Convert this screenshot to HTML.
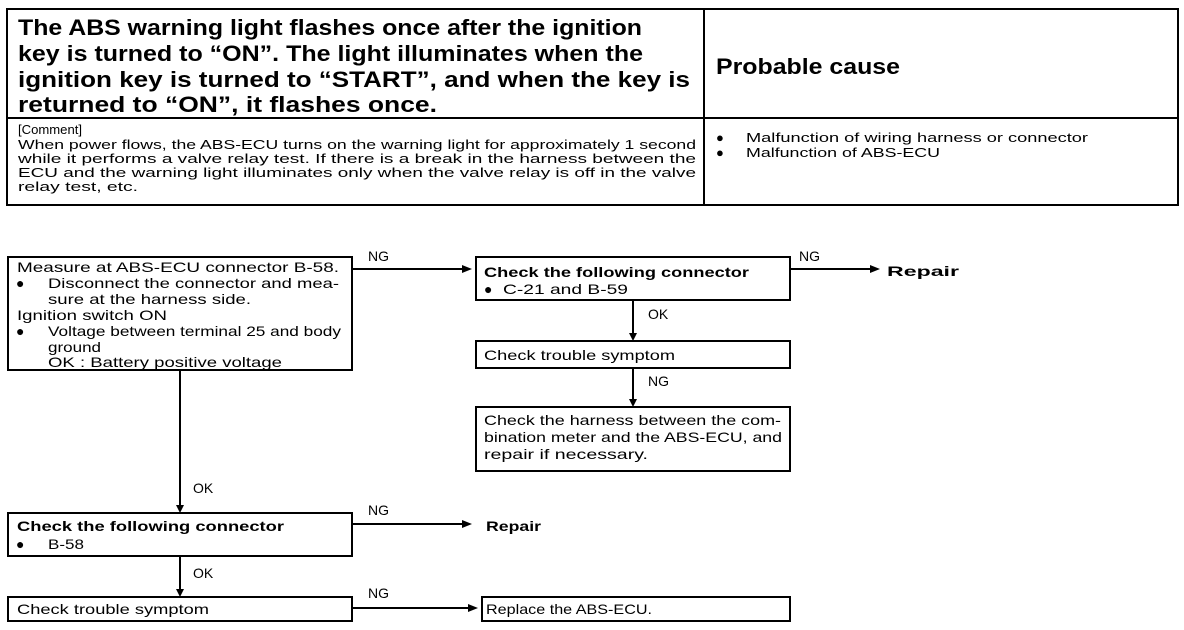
<!DOCTYPE html>
<html><head><meta charset="utf-8"><style>
body{margin:0;background:#fff;}
svg{display:block;font-family:"Liberation Sans",Arial,sans-serif;}
.b{font-weight:bold;}
</style></head><body>
<svg width="1184" height="630" viewBox="0 0 1184 630" xmlns="http://www.w3.org/2000/svg">
<rect width="1184" height="630" fill="#fff"/>
<g fill="none" stroke="#000" stroke-width="2">
<rect x="7" y="9" width="1171" height="196"/>
<line x1="7" y1="118" x2="1178" y2="118"/>
<line x1="704" y1="9" x2="704" y2="205"/>
<rect x="8" y="257" width="344" height="113"/>
<rect x="476" y="257" width="314" height="43"/>
<rect x="476" y="341" width="314" height="27"/>
<rect x="476" y="407" width="314" height="64"/>
<rect x="8" y="513" width="344" height="43"/>
<rect x="8" y="597" width="344" height="24"/>
<rect x="482" y="597" width="308" height="24"/>
<line x1="352" y1="269" x2="462" y2="269"/>
<line x1="790" y1="269" x2="870" y2="269"/>
<line x1="633" y1="300" x2="633" y2="333"/>
<line x1="633" y1="368" x2="633" y2="399"/>
<line x1="180" y1="370" x2="180" y2="505"/>
<line x1="352" y1="524" x2="462" y2="524"/>
<line x1="180" y1="556" x2="180" y2="589"/>
<line x1="352" y1="608" x2="468" y2="608"/>
</g>
<g fill="#000">
<polygon points="462,265 472,269 462,273"/>
<polygon points="870,265 880,269 870,273"/>
<polygon points="629,333 633,341 637,333"/>
<polygon points="629,399 633,407 637,399"/>
<polygon points="176,505 180,513 184,505"/>
<polygon points="462,520 472,524 462,528"/>
<polygon points="176,589 180,597 184,589"/>
<polygon points="468,604 478,608 468,612"/>
</g>
<g class="b" font-size="22" lengthAdjust="spacingAndGlyphs">
<text x="18" y="35" textLength="624" lengthAdjust="spacingAndGlyphs">The ABS warning light flashes once after the ignition</text>
<text x="18" y="61" textLength="625" lengthAdjust="spacingAndGlyphs">key is turned to “ON”.  The light illuminates when the</text>
<text x="18" y="87" textLength="672" lengthAdjust="spacingAndGlyphs">ignition key is turned to “START”, and when the key is</text>
<text x="18" y="112" textLength="419" lengthAdjust="spacingAndGlyphs">returned to “ON”, it flashes once.</text>
<text x="716" y="74" textLength="184" lengthAdjust="spacingAndGlyphs">Probable cause</text>
</g>
<g font-size="13">
<text x="18" y="134" textLength="64" lengthAdjust="spacingAndGlyphs">[Comment]</text>
<text x="18" y="149" textLength="678" lengthAdjust="spacingAndGlyphs">When power flows, the ABS-ECU turns on the warning light for approximately 1 second</text>
<text x="18" y="163" textLength="678" lengthAdjust="spacingAndGlyphs">while it performs a valve relay test.  If there is a break in the harness between the</text>
<text x="18" y="177" textLength="678" lengthAdjust="spacingAndGlyphs">ECU and the warning light illuminates only when the valve relay is off in the valve</text>
<text x="18" y="191" textLength="120" lengthAdjust="spacingAndGlyphs">relay test, etc.</text>
<text x="716" y="142">●</text><text x="746" y="142" textLength="342" lengthAdjust="spacingAndGlyphs">Malfunction of wiring harness or connector</text>
<text x="716" y="157">●</text><text x="746" y="157" textLength="194" lengthAdjust="spacingAndGlyphs">Malfunction of ABS-ECU</text>
</g>
<g font-size="14">
<text x="17" y="272" textLength="322" lengthAdjust="spacingAndGlyphs">Measure at ABS-ECU connector B-58.</text>
<text x="16" y="288">●</text><text x="48" y="288" textLength="291" lengthAdjust="spacingAndGlyphs">Disconnect the connector and mea-</text>
<text x="48" y="304" textLength="203" lengthAdjust="spacingAndGlyphs">sure at the harness side.</text>
<text x="17" y="320" textLength="150" lengthAdjust="spacingAndGlyphs">Ignition switch ON</text>
<text x="16" y="336">●</text><text x="48" y="336" textLength="293" lengthAdjust="spacingAndGlyphs">Voltage between terminal 25 and body</text>
<text x="48" y="352" textLength="53" lengthAdjust="spacingAndGlyphs">ground</text>
<text x="48" y="367" textLength="234" lengthAdjust="spacingAndGlyphs">OK : Battery positive voltage</text>
<text x="484" y="277" class="b" textLength="265" lengthAdjust="spacingAndGlyphs">Check the following connector</text>
<text x="484" y="294">●</text><text x="503" y="294" textLength="125" lengthAdjust="spacingAndGlyphs">C-21 and B-59</text>
<text x="484" y="360" textLength="191" lengthAdjust="spacingAndGlyphs">Check trouble symptom</text>
<text x="484" y="425" textLength="297" lengthAdjust="spacingAndGlyphs">Check the harness between the com-</text>
<text x="484" y="442" textLength="298" lengthAdjust="spacingAndGlyphs">bination meter and the ABS-ECU, and</text>
<text x="484" y="459" textLength="164" lengthAdjust="spacingAndGlyphs">repair if necessary.</text>
<text x="17" y="531" class="b" textLength="267" lengthAdjust="spacingAndGlyphs">Check the following connector</text>
<text x="16" y="549">●</text><text x="48" y="549" textLength="36" lengthAdjust="spacingAndGlyphs">B-58</text>
<text x="17" y="614" textLength="192" lengthAdjust="spacingAndGlyphs">Check trouble symptom</text>
<text x="486" y="614" textLength="166" lengthAdjust="spacingAndGlyphs">Replace the ABS-ECU.</text>
<text x="368" y="261">NG</text>
<text x="799" y="261">NG</text>
<text x="648" y="319">OK</text>
<text x="648" y="386">NG</text>
<text x="193" y="493">OK</text>
<text x="368" y="515">NG</text>
<text x="193" y="578">OK</text>
<text x="368" y="598">NG</text>
<text x="887" y="276" class="b" textLength="72" lengthAdjust="spacingAndGlyphs">Repair</text>
<text x="486" y="531" class="b" textLength="55" lengthAdjust="spacingAndGlyphs">Repair</text>
</g>
</svg>
</body></html>
